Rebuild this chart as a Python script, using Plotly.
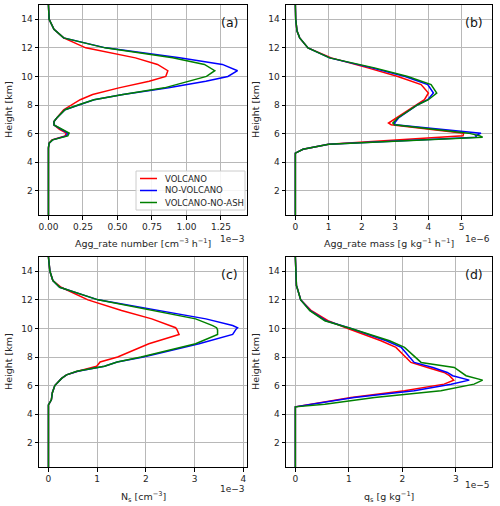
import plotly.graph_objects as go

# ---------------- data (x values in units of the axis offset) ----------------
heights_a = [15.0, 14.0, 13.3, 12.7, 12.0, 11.3, 10.84, 10.4, 10.0, 9.66, 9.2, 8.73, 8.37, 8.02,
             7.67, 7.09, 6.85, 6.6, 6.3, 6.03, 5.84, 5.56, 5.33, 5.0, 4.0, 3.0, 2.0, 1.0, 0.3]
volcano_a = [0.0, 0.005, 0.04, 0.11, 0.27, 0.63, 0.79, 0.865, 0.85, 0.73, 0.51, 0.32, 0.23, 0.17,
             0.11, 0.06, 0.04, 0.04, 0.08, 0.13, 0.12, 0.026, 0.005, 0.0, 0.0, 0.0, 0.0, 0.0, 0.0]
novolcano_a = [0.0, 0.005, 0.04, 0.11, 0.415, 0.95, 1.26, 1.37, 1.30, 1.14, 0.87, 0.54, 0.33, 0.22,
               0.12, 0.06, 0.04, 0.04, 0.09, 0.14, 0.13, 0.03, 0.005, 0.0, 0.0, 0.0, 0.0, 0.0, 0.0]
noash_a = [0.0, 0.005, 0.04, 0.11, 0.41, 0.90, 1.13, 1.205, 1.145, 1.02, 0.84, 0.54, 0.33, 0.22,
           0.12, 0.06, 0.04, 0.04, 0.10, 0.15, 0.14, 0.03, 0.005, 0.0, 0.0, 0.0, 0.0, 0.0, 0.0]

heights_b = [15.0, 14.0, 13.18, 12.7, 12.0, 11.3, 10.6, 10.0, 9.43, 8.84, 8.37, 8.02, 7.09, 6.74,
             6.62, 6.03, 5.84, 5.75, 5.26, 4.9, 4.63, 4.0, 3.0, 2.0, 1.0, 0.3]
volcano_b = [0.0, 0.01, 0.05, 0.13, 0.38, 1.08, 2.18, 3.08, 3.78, 4.0, 3.88, 3.65, 3.03, 2.80,
             2.88, 5.06, 5.04, 4.38, 1.0, 0.23, 0.0, 0.0, 0.0, 0.0, 0.0, 0.0]
novolcano_b = [0.0, 0.01, 0.05, 0.13, 0.38, 1.03, 2.3, 3.3, 3.98, 4.15, 3.98, 3.68, 3.1, 2.98,
               3.0, 5.58, 5.42, 5.45, 1.0, 0.23, 0.0, 0.0, 0.0, 0.0, 0.0, 0.0]
noash_b = [0.0, 0.01, 0.05, 0.13, 0.38, 1.03, 2.38, 3.38, 4.08, 4.25, 4.0, 3.68, 3.08, 2.93,
           2.98, 5.2, 5.55, 5.63, 1.0, 0.23, 0.0, 0.0, 0.0, 0.0, 0.0, 0.0]

heights_c = [15.0, 14.0, 13.35, 12.88, 12.0, 11.26, 10.67, 10.2, 10.05, 9.9, 9.58, 8.93, 8.0, 7.65,
             7.35, 7.0, 6.75, 6.5, 6.0, 5.5, 5.0, 4.65, 4.0, 3.0, 2.0, 1.0, 0.3]
volcano_c = [0.0, 0.03, 0.09, 0.26, 0.81, 1.5, 2.12, 2.5, 2.61, 2.64, 2.68, 2.06, 1.42, 1.06,
             0.99, 0.6, 0.37, 0.27, 0.13, 0.08, 0.06, 0.0, 0.0, 0.0, 0.0, 0.0, 0.0]
novolcano_c = [0.0, 0.03, 0.09, 0.23, 1.02, 2.26, 3.23, 3.78, 3.88, 3.84, 3.78, 3.09, 1.95, 1.41,
               1.15, 0.6, 0.37, 0.27, 0.13, 0.08, 0.06, 0.0, 0.0, 0.0, 0.0, 0.0, 0.0]
noash_c = [0.0, 0.03, 0.09, 0.23, 1.02, 2.12, 3.02, 3.37, 3.45, 3.47, 3.47, 3.02, 1.9, 1.41,
           1.15, 0.58, 0.37, 0.27, 0.13, 0.08, 0.06, 0.0, 0.0, 0.0, 0.0, 0.0, 0.0]

heights_d = [15.0, 14.0, 13.0, 12.64, 12.0, 11.24, 10.54, 10.0, 9.14, 8.67, 7.97, 7.62, 7.27, 6.92,
             6.69, 6.38, 6.1, 5.64, 5.17, 4.7, 4.51, 4.0, 3.0, 2.0, 1.0, 0.3]
volcano_d = [0.0, 0.005, 0.02, 0.05, 0.1, 0.3, 0.61, 0.98, 1.60, 1.88, 2.07, 2.16, 2.47, 2.78,
             2.88, 2.96, 2.78, 2.04, 1.04, 0.27, 0.0, 0.0, 0.0, 0.0, 0.0, 0.0]
novolcano_d = [0.0, 0.005, 0.02, 0.05, 0.1, 0.28, 0.57, 1.04, 1.70, 1.98, 2.13, 2.22, 2.57, 2.84,
               2.94, 3.25, 2.91, 2.22, 1.1, 0.3, 0.0, 0.0, 0.0, 0.0, 0.0, 0.0]
noash_d = [0.0, 0.005, 0.02, 0.05, 0.1, 0.27, 0.55, 1.04, 1.76, 2.04, 2.25, 2.35, 2.97, 3.09,
           3.19, 3.50, 3.34, 2.72, 1.48, 0.55, 0.0, 0.0, 0.0, 0.0, 0.0, 0.0]

series_names = ["VOLCANO", "NO-VOLCANO", "VOLCANO-NO-ASH"]
series_colors = ["#ff0000", "#0000ff", "#008000"]

xticks_a = [0.0, 0.25, 0.5, 0.75, 1.0, 1.25]
xticks_b = [0, 1, 2, 3, 4, 5]
xticks_c = [0, 1, 2, 3, 4]
xticks_d = [0, 1, 2, 3]
yticks = [2, 4, 6, 8, 10, 12, 14]

xtitles = ["Agg_rate number [cm<sup>−3</sup> h<sup>−1</sup>]",
           "Agg_rate mass [g kg<sup>−1</sup> h<sup>−1</sup>]",
           "N<sub>s</sub> [cm<sup>−3</sup>]",
           "q<sub>s</sub> [g kg<sup>−1</sup>]"]
offsets = ["1e−3", "1e−6", "1e−3", "1e−5"]
panel_labels = ["(a)", "(b)", "(c)", "(d)"]

# ---------------- figure ----------------
W, H = 500, 506
FONT = "DejaVu Sans"
TXT = "#262626"
fig = go.Figure()

panels = [
    (heights_a, [volcano_a, novolcano_a, noash_a], xticks_a, ".2f", (39, 247), (5, 215)),
    (heights_b, [volcano_b, novolcano_b, noash_b], xticks_b, "d", (286, 492), (5, 215)),
    (heights_c, [volcano_c, novolcano_c, noash_c], xticks_c, "d", (39, 247), (257, 467)),
    (heights_d, [volcano_d, novolcano_d, noash_d], xticks_d, "d", (286, 492), (257, 467)),
]
title_gap = [28, 28, 30, 30]
offset_gap = [24, 24, 22, 18]

axis_common = dict(showline=True, mirror=True, linecolor="black", linewidth=1,
                   ticks="outside", ticklen=3.5, tickwidth=1, tickcolor="black",
                   showgrid=True, gridcolor="#b8b8b8", gridwidth=1, zeroline=False,
                   tickfont=dict(family=FONT, size=9, color=TXT))

for i, (hts, vals, xt, fmt, (x0, x1), (yt, yb)) in enumerate(panels):
    n = i + 1
    xa = "x" if n == 1 else f"x{n}"
    ya = "y" if n == 1 else f"y{n}"
    for name, color, v in zip(series_names, series_colors, vals):
        fig.add_trace(go.Scatter(x=v, y=hts, mode="lines", name=name,
                                 line=dict(color=color, width=1.5),
                                 xaxis=xa, yaxis=ya, showlegend=False))
    vmax = max(max(v) for v in vals)
    vmin = min(min(v) for v in vals)
    span = vmax - vmin
    fig.layout[f"xaxis{'' if n == 1 else n}"] = dict(
        domain=[x0 / W, x1 / W], anchor=ya,
        range=[vmin - 0.05 * span, vmax + 0.05 * span],
        tickvals=xt, tickformat=fmt, **axis_common)
    fig.layout[f"yaxis{'' if n == 1 else n}"] = dict(
        domain=[1 - yb / H, 1 - yt / H], anchor=xa,
        range=[0.3, 15.0], tickvals=yticks, **axis_common)
    ph = yb - yt
    pw = x1 - x0
    fig.add_annotation(text=xtitles[i], xref=f"{xa} domain", yref=f"{ya} domain",
                       x=0.5, y=-title_gap[i] / ph, xanchor="center", yanchor="middle",
                       showarrow=False, font=dict(family=FONT, size=9.5, color=TXT))
    fig.add_annotation(text="Height [km]", xref=f"{xa} domain", yref=f"{ya} domain",
                       x=-31 / pw, y=0.5, xanchor="center", yanchor="middle", textangle=-90,
                       showarrow=False, font=dict(family=FONT, size=9.5, color=TXT))
    fig.add_annotation(text=offsets[i], xref=f"{xa} domain", yref=f"{ya} domain",
                       x=1, y=-offset_gap[i] / ph, xanchor="right", yanchor="middle",
                       showarrow=False, font=dict(family=FONT, size=9, color=TXT))
    fig.add_annotation(text=panel_labels[i], xref=f"{xa} domain", yref=f"{ya} domain",
                       x=0.965, y=0.915, xanchor="right", yanchor="middle",
                       showarrow=False, font=dict(family=FONT, size=12.5, color="#111111"))

# legend box inside panel (a), lower right (matplotlib-style)
lx0, lx1, ly0, ly1 = 136, 245, 171, 210
fig.add_shape(type="rect", xref="paper", yref="paper",
              x0=lx0 / W, x1=lx1 / W, y0=1 - ly1 / H, y1=1 - ly0 / H,
              fillcolor="rgba(255,255,255,0.85)", line=dict(color="#cccccc", width=1))
for k, (name, color) in enumerate(zip(series_names, series_colors)):
    yy = 1 - (178.5 + 12 * k) / H
    fig.add_shape(type="line", xref="paper", yref="paper",
                  x0=140 / W, x1=157 / W, y0=yy, y1=yy,
                  line=dict(color=color, width=1.5))
    fig.add_annotation(text=name, xref="paper", yref="paper", x=163 / W, y=yy,
                       xanchor="left", yanchor="middle", showarrow=False,
                       font=dict(family=FONT, size=8.5, color=TXT))

fig.update_layout(width=W, height=H, margin=dict(l=0, r=0, t=0, b=0),
                  paper_bgcolor="white", plot_bgcolor="white", showlegend=False)

fig.write_html("out.html")
